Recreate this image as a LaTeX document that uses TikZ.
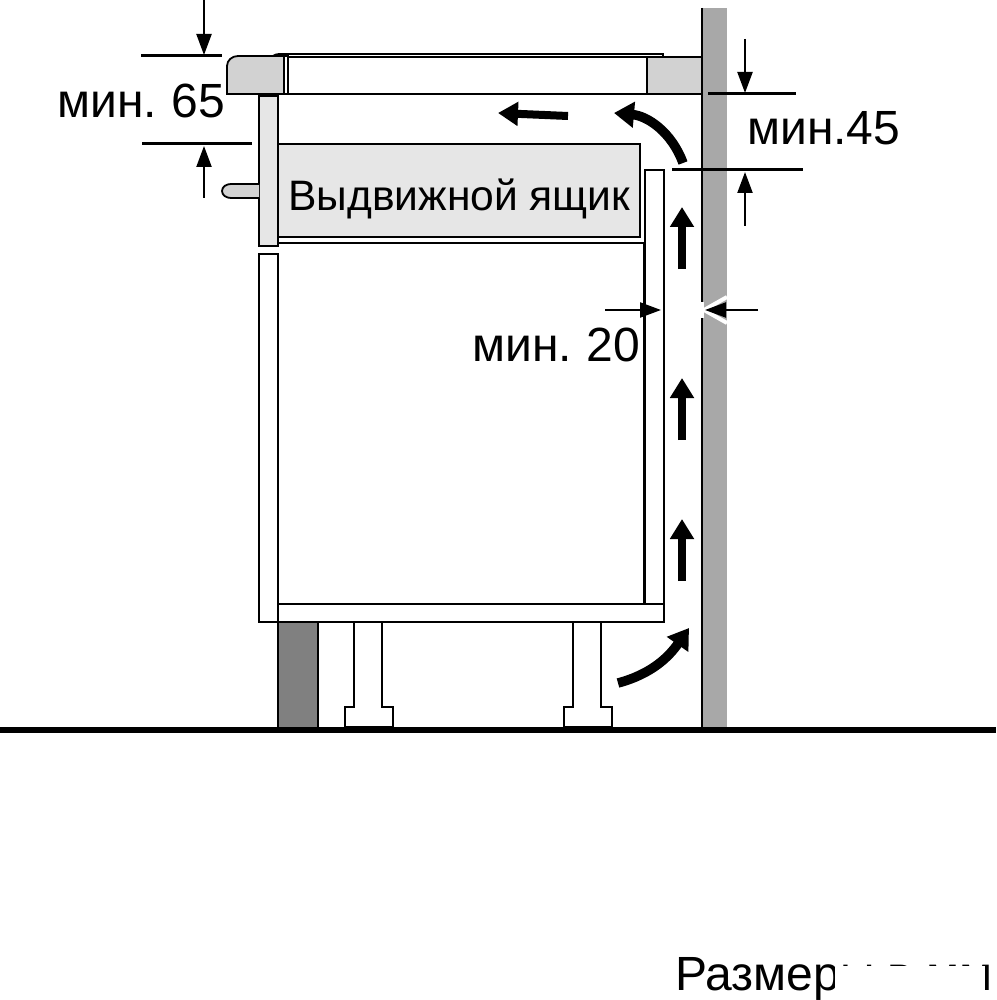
\documentclass[tikz,border=0pt]{standalone}
\usepackage{fontspec}
\setmainfont{Liberation Sans}
\usetikzlibrary{arrows.meta}
\tikzset{
  part/.style={draw, line width=1.8},
  dimline/.style={line width=3},
  dimarrow/.style={line width=2.2, -{Triangle[length=21, width=15]}},
  airflow/.style={line width=8, -{Triangle[length=20, width=23]}},
  airbend/.style={line width=9.5, -{Triangle[length=20, width=25]}},
  bigtext/.style={inner sep=0, anchor=base west, font=\fontsize{48}{48}\selectfont},
}
\definecolor{wallgray}{HTML}{A8A8A8}
\definecolor{topgray}{HTML}{D2D2D2}
\definecolor{drawergray}{HTML}{E6E6E6}
\definecolor{plinthgray}{HTML}{808080}
\begin{document}
\begin{tikzpicture}[x=1pt, y=-1pt]
  \useasboundingbox (0,0) rectangle (996,1000);

  % wall
  \fill [wallgray] (702,8) rectangle (727,729);
  \draw [line width=2.2] (702,8) -- (702,729);
  \fill [white] (700,302) rectangle (704,318);
  \draw [white, line width=4] (727,297) -- (704,310) -- (727,323);

  % cooktop and worktop
  \draw [part, fill=topgray] (227,94) -- (227,66) to [out=90, in=180] (238,56) -- (284,56) -- (284,94) -- cycle;
  \draw [part] (284,56) rectangle (288,94);
  \draw [part] (288,57) rectangle (647,94);
  \draw [part, fill=topgray] (647,57) rectangle (702,94);
  \draw [part] (273,56) to [out=30, in=180] (279,54) -- (663,54) -- (663,57);

  % cabinet
  \draw [part, fill=plinthgray] (278,622) rectangle (318,729);
  \draw [part, fill=drawergray] (259,96) rectangle (278,246);
  \draw [part, fill=topgray] (259,184) -- (231,184) to [out=180, in=90] (222,191) to [out=-90, in=180] (231,198) -- (259,198);
  \draw [part, fill=drawergray] (278,144) rectangle (640,237);
  \draw [part] (278,243) -- (643.5,243) -- (643.5,604);
  \draw [part] (259,254) rectangle (278,622);
  \draw [part] (645,170) rectangle (664,604);
  \draw [part] (278,604) rectangle (664,622);

  % feet
  \draw [part] (354,622) -- (354,707) -- (345,707) -- (345,727) -- (393,727) -- (393,707) -- (382,707) -- (382,622);
  \draw [part] (573,622) -- (573,707) -- (564,707) -- (564,727) -- (612,727) -- (612,707) -- (601,707) -- (601,622);

  % floor
  \draw [line width=6] (0,730) -- (996,730);

  % dimensions
  \coordinate (topa) at (204,0);
  \coordinate (topb) at (204,55);
  \coordinate (lowa) at (204,198);
  \coordinate (lowb) at (204,146);
  \coordinate (riga) at (745,39);
  \coordinate (rigb) at (745,93);
  \coordinate (rila) at (745,226);
  \coordinate (rilb) at (745,172);
  \coordinate (gapa) at (605,310);
  \coordinate (gapb) at (661,310);
  \coordinate (gapc) at (758,310);
  \coordinate (gapd) at (705,310);
  \draw [dimline] (141,56) -- (222,56);
  \draw [dimline] (142,144) -- (252,144);
  \draw [dimline] (708,94) -- (796,94);
  \draw [dimline] (672,170) -- (803,170);
  \draw [dimarrow] (topa) -- (topb);
  \draw [dimarrow] (lowa) -- (lowb);
  \draw [dimarrow] (riga) -- (rigb);
  \draw [dimarrow] (rila) -- (rilb);
  \draw [dimarrow] (gapa) -- (gapb);
  \draw [dimarrow] (gapc) -- (gapd);

  % air flow
  \coordinate (flowa) at (682,269);
  \coordinate (flowb) at (682,207);
  \coordinate (flowc) at (682,440);
  \coordinate (flowd) at (682,378);
  \coordinate (flowe) at (682,581);
  \coordinate (flowf) at (682,519);
  \coordinate (flowg) at (568,116);
  \coordinate (flowh) at (498,113);
  \coordinate (flowi) at (683,163);
  \coordinate (flowj) at (614,113);
  \coordinate (flowk) at (618,683);
  \coordinate (flowl) at (689,628);
  \draw [airflow] (flowa) -- (flowb);
  \draw [airflow] (flowc) -- (flowd);
  \draw [airflow] (flowe) -- (flowf);
  \draw [airflow] (flowg) -- (flowh);
  \draw [airbend] (flowi) to [out=110, in=-5] (flowj);
  \draw [airbend] (flowk) to [out=15, in=-125] (flowl);

  % labels
  \node [bigtext] (mina) at (57,118) {мин.\kern-3pt{} 65};
  \node [bigtext] (minb) at (747,145) {мин.45};
  \node [bigtext] (minc) at (472,361) {мин.\kern-3pt{} 20};
  \node [bigtext, font=\fontsize{42.6}{43}\selectfont] (drawer) at (288,211) {Выдвижной ящик};
  \node [bigtext] (sizes) at (675,990) {Размеры в мм};
  \fill [white] (835,966) rectangle (985,1000);
\end{tikzpicture}
\end{document}
